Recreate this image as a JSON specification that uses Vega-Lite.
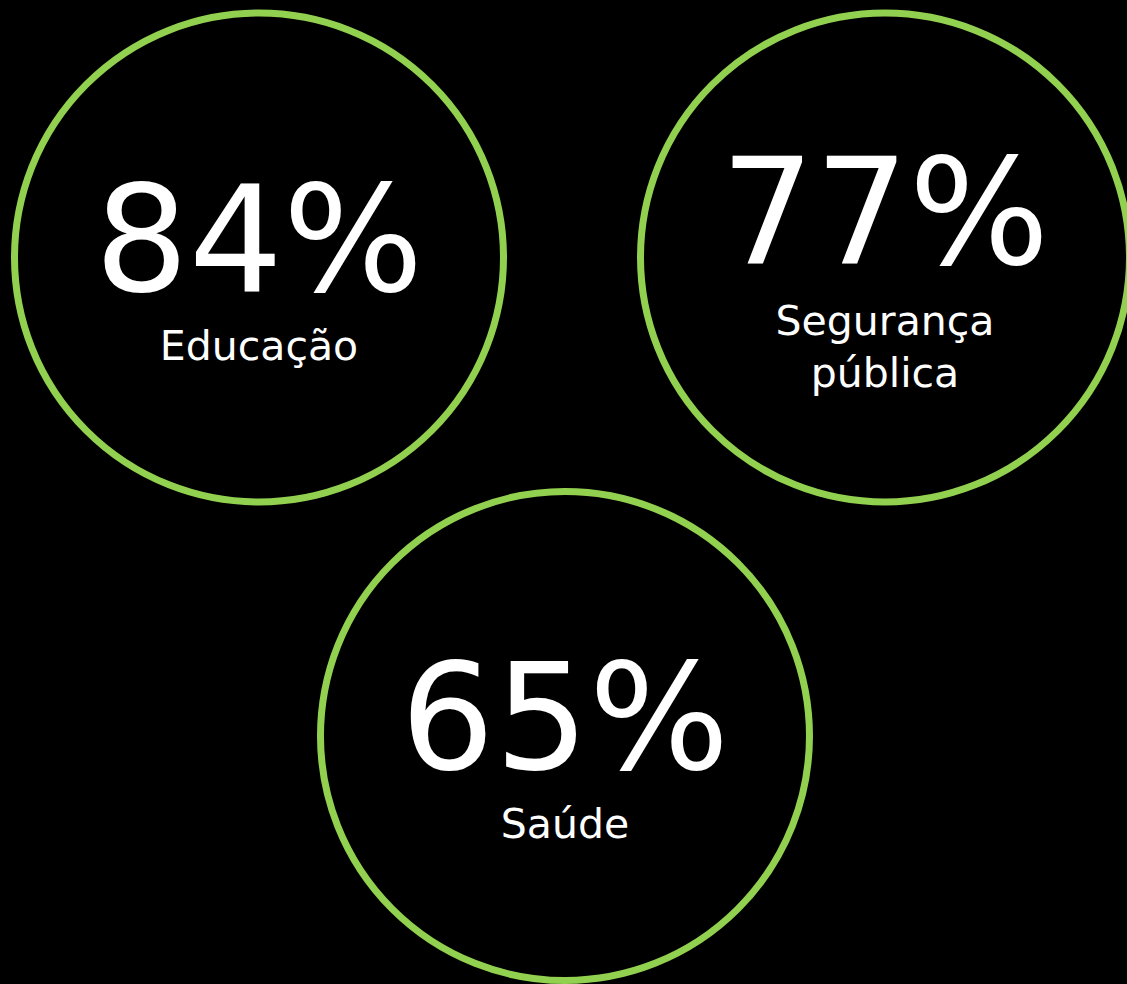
{
  "$schema": "https://vega.github.io/schema/vega-lite/v6.json",
  "width": 1127,
  "height": 984,
  "autosize": "none",
  "padding": 0,
  "background": "#000000",
  "config": {"view": {"stroke": null}, "font": "DejaVu Sans"},
  "data": {
    "values": [
      {"label": "Educação", "share": 0.84, "col": 0, "row": 0},
      {"label": "Segurança pública", "share": 0.77, "col": 2, "row": 0},
      {"label": "Saúde", "share": 0.65, "col": 1, "row": 1}
    ]
  },
  "encoding": {
    "x": {"field": "col", "type": "quantitative", "scale": {"type": "pow", "exponent": 1.0327, "domain": [0, 2], "range": [259, 885]}, "axis": null},
    "y": {"field": "row", "type": "quantitative", "scale": {"domain": [0, 1], "range": [257.5, 736]}, "axis": null}
  },
  "layer": [
    {
      "mark": {"type": "point", "shape": "circle", "filled": false, "size": 239121, "stroke": "#92D050", "strokeWidth": 7, "opacity": 1, "strokeOpacity": 1, "clip": true}
    },
    {
      "transform": [{"filter": "indexof(datum.label, ' ') < 0"}],
      "mark": {"type": "text", "fontSize": 148, "color": "#ffffff", "align": "center", "baseline": "alphabetic", "dy": 33},
      "encoding": {"text": {"field": "share", "type": "quantitative", "format": ".0%"}}
    },
    {
      "transform": [{"filter": "indexof(datum.label, ' ') >= 0"}],
      "mark": {"type": "text", "fontSize": 148, "color": "#ffffff", "align": "center", "baseline": "alphabetic", "dy": 6.5},
      "encoding": {"text": {"field": "share", "type": "quantitative", "format": ".0%"}}
    },
    {
      "transform": [{"filter": "indexof(datum.label, ' ') < 0"}],
      "mark": {"type": "text", "fontSize": 41, "color": "#ffffff", "align": "center", "baseline": "alphabetic", "dy": 102},
      "encoding": {"text": {"field": "label", "type": "nominal"}}
    },
    {
      "transform": [{"filter": "indexof(datum.label, ' ') >= 0"}],
      "mark": {"type": "text", "fontSize": 41, "color": "#ffffff", "align": "center", "baseline": "alphabetic", "dy": 77.5, "lineBreak": " ", "lineHeight": 52},
      "encoding": {"text": {"field": "label", "type": "nominal"}}
    }
  ]
}
